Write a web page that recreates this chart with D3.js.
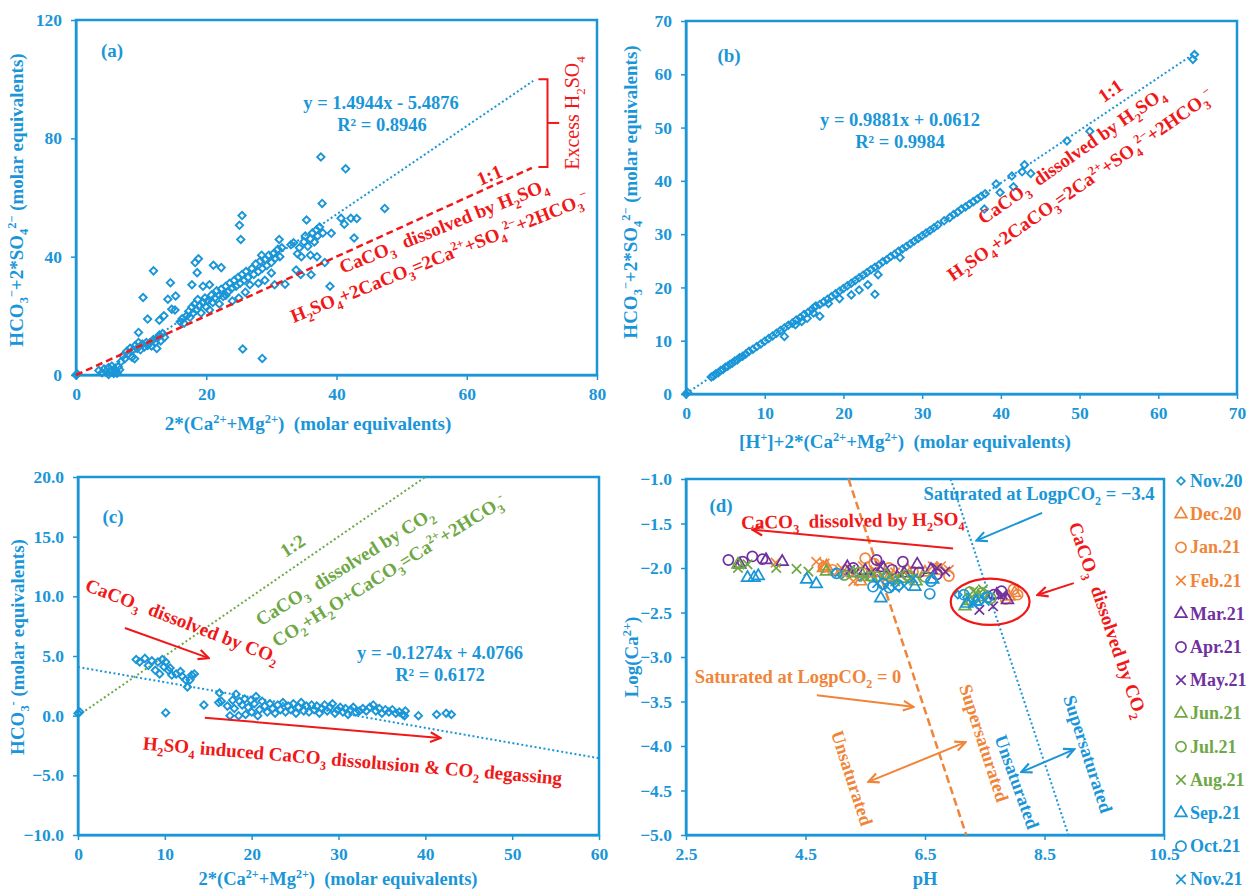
<!DOCTYPE html>
<html lang="en">
<head>
<meta charset="UTF-8">
<title>Carbonate weathering plots</title>
<script src="https://cdn.jsdelivr.net/npm/d3@7/dist/d3.min.js"></script>
<style>
	body { margin: 0; background: #fff; }
	svg { font-family: "Liberation Serif", "Times New Roman", serif; }
</style>
</head>
<body>
<script>
	const blue = '#1a96d8', red = '#f01818', orange = '#f0853a', purple = '#7030a0', green = '#6ea845';

	// (a) 2*(Ca+Mg) vs HCO3 + 2*SO4
	const aPoints = [
		[0,0],[0.2,0.3],[3.5,1.5],[4,0.8],[4.3,2],[4.6,1.2],[5,0.2],[5,2.5],[5.3,1],[5.5,3],[5.8,0.5],[5.9,2],[6.1,1.4],
		[6.3,0.6],[6.5,2.8],[6.7,1.8],[6.9,4.5],[7.2,6.5],[7.5,5.5],[7.8,8],[8,7],[8.3,9],[8.6,6],[8.8,8.5],[9.1,10],
		[9.4,9],[9.6,11],[9.9,8.5],[10.2,10.5],[10.5,9.5],[10.8,11],[11,10],[11.3,10.8],[11.6,9.8],[11.9,12],[12.2,11],
		[12.5,12.5],[12.8,13.5],[13,11.5],[13.3,14],[13.6,12.8],[12.4,9],[9,5.5],
		[9.6,14.4],[10.3,26.2],[11,18.9],[11.9,35.2],[12.8,18.5],[13.5,20],[14.1,25.6],[14.5,31.2],[14.7,22.2],[15.3,26.7],[15.2,22],
		[16,18],[16.3,19],[16.6,17.5],[17,20],[17.3,21.5],[17.5,19.5],[17.8,23],[18,21],[18.2,24],[18.5,22],[18.7,25.5],
		[19,23.5],[19.2,21],[19.5,24.5],[19.8,26],[20,23],[20.2,25],[20.5,22],[20.8,27],[21,24.5],[21.3,26],[21.6,28.5],
		[22,27],[22.3,29],[22.6,26.5],[23,30],[23.3,28],[23.6,31],[24,29.5],[24.3,32],[24.6,30],[24.9,33],[25.2,31],
		[25.5,34],[25.8,32],[26.1,35],[26.4,33],[26.7,30.5],[27,36],[27.3,34],[27.6,37.5],[28,35],[28.3,38.5],[28.6,36],
		[29,39],[29.3,37],[29.6,40.5],[30,38],[30.3,41],[30.6,39.5],[31,42.5],[31.3,40],[31.6,43],[30,34.5],[29,32],
		[28,31],[26,28],[25,26],[24,25],[23,27],[22,24],
		[18.3,38],[18.6,34.6],[18.8,39.3],[17.8,30.5],[19.5,30],[20.5,30.5],[21.1,37.1],[22.3,36.3],[25.1,50.6],
		[25.3,45.8],[25.5,53.9],[25.6,8.8],[28.6,5.6],[28.5,40.5],[30.5,30.5],[32.1,30.7],[31.2,45.8],
		[33,44],[33.4,44.7],[33.8,35.5],[34,41],[34.3,43],[34.6,40],[35,45],[35.2,47],[35.4,52.4],[35.6,43.5],[36,46],
		[36.1,33.9],[36.3,48],[36.6,45],[36.9,49],[37.1,47],[37.4,50],[37.6,73.7],[37.8,58],[37.9,48],[38.2,38],[37,40],
		[36,40.5],[34.5,34],[39.2,47.9],[39,30],[41.4,69.7],[40.7,53],[41.2,51],[42.2,53],[42.7,46.3],[43.1,52.9],[47.4,56.3]
	];
	const aTrend = [[3.67,0],[70.2,99.4]];      // y = 1.4944x - 5.4876
	const aOneToOne = [[0,0],[70,70]];

	// (b) [H+]+2*(Ca+Mg) vs HCO3 + 2*SO4
	const bPoints = [
		[0,0],[0.2,0.3],[3.2,3.2],[3.5,3.4],[3.8,3.8],[4.1,4.0],[4.4,4.4],[4.7,4.6],[5.0,5.0],[5.3,5.2],[5.6,5.6],[5.9,5.8],
		[6.2,6.2],[6.5,6.4],[6.8,6.8],[7.2,7.1],[7.6,7.5],[8.0,8.0],[8.5,8.4],[9.0,8.9],[9.5,9.4],[10,9.9],[10.5,10.4],
		[11,10.9],[11.5,11.4],[12,11.9],[12.5,12.4],[13,12.9],[13.5,13.3],[14,13.9],[14.5,14.3],[15,14.9],[15.5,15.3],
		[16,15.9],[16.3,16.3],[16.5,16.5],[17,16.8],[17.5,17.3],[18,17.8],[18.5,18.3],[19,18.8],[19.5,19.3],[20,19.8],
		[20.5,20.3],[21,20.8],[21.5,21.3],[22,21.8],[22.5,22.3],[23,22.8],[23.5,23.3],[24,23.8],[24.5,24.2],[25,24.8],
		[25.5,25.2],[26,25.8],[26.5,26.2],[27,26.8],[27.5,27.2],[28,27.7],[28.5,28.2],[29,28.7],[29.5,29.2],[30,29.7],
		[30.5,30.2],[31,30.7],[31.5,31.2],[32,31.7],[32.8,32.5],[33.5,33.1],[34,33.7],[34.5,34.1],[35,34.7],[35.5,35.1],
		[36,35.6],[36.5,36.1],[37,36.6],[37.5,37.1],[38,37.6],
		[12.5,10.8],[13.9,13.0],[14.7,13.6],[15.4,14.2],[16.2,15.2],[17.0,14.6],[18.1,17.0],[19.5,17.9],[21,18.6],
		[22,19.5],[23.1,20.5],[24.0,18.7],[24.4,22.4],[27.2,25.6],[37.9,34.7],[39.9,37.8],[39.4,39.4],[41.6,38.9],
		[41.4,40.9],[42.7,41.7],[43.8,41.4],[43,43],[48.4,47.5],[51.3,49.3],[64.4,62.8],[64.6,63.7]
	];
	const bTrend = [[0,0.06],[64.7,64.0]];      // y = 0.9881x + 0.0612

	// (c) 2*(Ca+Mg) vs HCO3
	const cPoints = [
		[0,0.2],[0.2,0.3],[6.7,4.7],[7.1,4.5],[7.7,4.8],[8.1,4.2],[8.5,4.6],[8.9,3.8],[9.2,4.5],[9.4,3.5],[9.7,4.7],
		[9.9,4.1],[10.1,4.5],[10.4,3.8],[10.6,4.0],[10.8,3.4],[11.3,3.5],[11.8,3.7],[12.0,3.3],[12.4,3.0],[12.6,2.4],
		[12.9,3.0],[13.1,3.4],[13.4,3.5],[10.1,0.25],[14.5,0.9],
		[16.2,1.1],[16.3,1.9],[16.5,1.2],[17.2,0.8],[17.5,0],[17.8,1.3],[18,0.6],[18.2,1.8],[18.5,0],[18.6,1.2],[18.9,0.9],
		[19.2,1.4],[19.3,0.1],[19.6,0.7],[19.9,1.3],[20,0.3],[20.3,1.0],[20.5,1.6],[20.7,0],[20.9,0.5],[21.2,1.2],
		[21.5,0.8],[21.8,0.3],[22.1,1.0],[22.4,0.6],[22.7,0.2],[23,0.9],[23.3,0.5],[23.6,1.1],[23.9,0.3],[24.2,0.8],
		[24.5,0.5],[24.8,1.0],[25.1,0.2],[25.4,0.7],[25.7,1.1],[26,0.4],[26.3,0.8],[26.6,0.3],[26.9,0.9],[27.2,0.5],
		[27.5,0.8],[27.8,0.2],[28.1,0.6],[28.4,0.9],[28.7,0.4],[29,0.7],[29.3,1.0],[29.6,0.2],[29.9,0.5],[30.2,0.7],
		[30.5,0.3],[30.8,0.6],[31.1,0.1],[31.4,0.5],[31.7,0.7],[32,0.3],[32.4,0.4],[32.8,0.6],[33.2,0.4],[33.6,0.7],
		[34,0.9],[34.3,0.4],[34.7,0.6],[35,0.2],[35.4,0.5],[35.8,0.3],[36.2,0.5],[36.6,0.2],[37,0.3],[37.4,0.1],
		[37.7,0.4],[37.6,0],[39.2,0],[41.3,0.1],[42.4,0.2],[43,0.1]
	];
	const cTrend = [[0,4.0766],[60,-3.5674]];   // y = -0.1274x + 4.0766
	const cOneToTwo = [[0,0],[40,20]];

	// (d) pH vs Log(Ca2+), by month
	const nov20 = [[5.0,-2.05],[5.1,-2.08],[5.25,-2.06],[5.4,-2.1],[5.55,-2.07],[5.7,-2.12],[5.85,-2.09],[6.0,-2.14],[7.05,-2.3],[7.2,-2.33],[7.35,-2.35],[7.5,-2.31]];
	const dec20 = [[4.8,-2.0],[4.85,-1.98],[5.2,-2.05],[5.42,-2.15],[5.6,-2.06],[5.9,-2.1],[6.2,-2.02],[6.5,-2.05],[6.7,-2.03],[7.9,-2.32],[8.0,-2.28]];
	const jan21 = [[4.8,-1.99],[4.95,-2.02],[5.5,-1.89],[5.65,-1.95],[5.9,-2.0],[6.3,-2.04],[6.9,-2.09],[7.98,-2.24],[8.05,-2.3],[7.85,-2.35]];
	const feb21 = [[4.0,-1.94],[4.68,-1.93],[4.82,-1.95],[5.1,-2.0],[5.46,-1.98],[5.3,-2.15],[6.0,-2.05],[6.63,-1.98],[6.77,-1.98],[6.9,-2.02]];
	const mar21 = [[3.4,-1.96],[3.84,-1.91],[4.11,-1.93],[5.2,-1.99],[5.5,-2.03],[5.8,-2.0],[6.15,-2.06],[6.37,-1.96],[6.6,-2.02],[7.7,-2.3],[7.88,-2.36]];
	const apr21 = [[3.21,-1.91],[3.61,-1.87],[3.78,-1.9],[3.45,-1.93],[5.3,-2.0],[5.69,-1.91],[5.95,-2.02],[6.13,-1.93],[6.4,-2.05],[6.7,-2.07],[7.78,-2.26],[7.65,-2.3]];
	const may21 = [[5.25,-2.02],[5.6,-2.05],[5.75,-1.98],[6.1,-2.08],[6.84,-2.04],[6.7,-2.0],[7.41,-2.47],[7.64,-2.43],[7.8,-2.3]];
	const jun21 = [[3.37,-1.96],[4.85,-2.04],[5.3,-2.06],[5.6,-2.1],[5.85,-2.08],[6.1,-2.12],[6.35,-2.15],[7.17,-2.43],[7.25,-2.37],[7.4,-2.33]];
	const jul21 = [[5.15,-2.08],[5.4,-2.05],[5.7,-2.1],[5.95,-2.12],[6.2,-2.08],[6.5,-2.1],[7.25,-2.27],[7.45,-2.28],[7.6,-2.34]];
	const aug21 = [[3.37,-2.0],[3.53,-1.96],[4.01,-2.0],[4.35,-2.01],[4.55,-2.04],[5.5,-2.1],[6.0,-2.15],[6.25,-2.12],[7.31,-2.26],[7.47,-2.24]];
	const sep21 = [[3.53,-2.11],[3.64,-2.11],[3.71,-2.09],[4.52,-2.13],[4.68,-2.18],[5.76,-2.34],[6.33,-2.21],[6.63,-2.13],[7.2,-2.4],[7.35,-2.38]];
	const oct21 = [[5.02,-2.06],[5.63,-2.21],[5.8,-2.18],[5.9,-2.22],[6.05,-2.19],[6.58,-2.29],[6.6,-2.15],[7.15,-2.3],[7.4,-2.36],[7.55,-2.33]];
	const nov21 = [[5.7,-2.17],[5.85,-2.2],[6.0,-2.22],[6.15,-2.2],[6.3,-2.12],[7.3,-2.4],[7.5,-2.37]];
	const monthNames = ['Nov.20','Dec.20','Jan.21','Feb.21','Mar.21','Apr.21','May.21','Jun.21','Jul.21','Aug.21','Sep.21','Oct.21','Nov.21'];
	const monthData = [nov20, dec20, jan21, feb21, mar21, apr21, may21, jun21, jul21, aug21, sep21, oct21, nov21];
	const monthColors = [blue, orange, orange, orange, purple, purple, purple, green, green, green, blue, blue, blue];
	const monthShapes = ['diamond','triangle','circle','cross','triangle','circle','cross','triangle','circle','cross','triangle','circle','cross'];
	const dSatZero = [[5.22,-1],[7.19,-5]];
	const dSatAir = [[6.93,-1],[8.9,-5]];

	// ticks
	const aTicksX = [0,20,40,60,80], aTicksY = [0,40,80,120];
	const bTicks = [0,10,20,30,40,50,60,70];
	const cTicksX = [0,10,20,30,40,50,60], cTicksY = [-10,-5,0,5,10,15,20];
	const dTicksX = [2.5,4.5,6.5,8.5,10.5], dTicksY = [-5,-4.5,-4,-3.5,-3,-2.5,-2,-1.5,-1];

	const svg = d3.select('body').append('svg').attr('width', 1250).attr('height', 892);

	const defs = svg.append('defs');
	[['ar-red', red], ['ar-blue', blue], ['ar-orange', orange]].forEach(([id, col]) => {
		defs.append('marker').attr('id', id)
			.attr('viewBox', '0 0 12 12').attr('refX', 10).attr('refY', 6)
			.attr('markerWidth', 13).attr('markerHeight', 13)
			.attr('markerUnits', 'userSpaceOnUse').attr('orient', 'auto-start-reverse')
			.append('path').attr('d', 'M1,1.5L10.5,6L1,10.5')
			.attr('fill', 'none').attr('stroke', col).attr('stroke-width', 2);
	});

	// text with _{sub} and ^{sup}
	function rich(sel, str, fs) {
		const parts = str.split(/(_\{[^}]*\}|\^\{[^}]*\})/).filter(s => s.length);
		let cur = 0;
		parts.forEach(p => {
			let off = 0, size = fs, txt = p;
			if (p.startsWith('_{')) { off = fs * 0.28; size = fs * 0.65; txt = p.slice(2, -1); }
			else if (p.startsWith('^{')) { off = -fs * 0.38; size = fs * 0.65; txt = p.slice(2, -1); }
			sel.append('tspan').attr('dy', off - cur).attr('font-size', size).text(txt);
			cur = off;
		});
	}

	function note(x, y, ang, str, color, fs, weight) {
		const t = svg.append('text')
			.attr('transform', `translate(${x},${y}) rotate(${ang})`)
			.attr('text-anchor', 'middle')
			.attr('fill', color)
			.attr('font-weight', weight || 'bold')
			.attr('font-size', fs)
			.style('white-space', 'pre');
		rich(t, str, fs);
		return t;
	}

	function panel(cfg) {
		const x = d3.scaleLinear().domain(cfg.xd).range(cfg.xr);
		const y = d3.scaleLinear().domain(cfg.yd).range(cfg.yr);
		const g = svg.append('g');
		const gx = g.append('g').attr('transform', `translate(0,${cfg.yr[0]})`)
			.call(d3.axisBottom(x).tickValues(cfg.xt).tickSize(5).tickSizeOuter(0).tickPadding(8).tickFormat(cfg.xf || d3.format('d')));
		const gy = g.append('g').attr('transform', `translate(${cfg.xr[0]},0)`)
			.call(d3.axisLeft(y).tickValues(cfg.yt).tickSize(5).tickSizeOuter(0).tickPadding(9).tickFormat(cfg.yf || d3.format('d')));
		[gx, gy].forEach(a => {
			a.select('.domain').attr('stroke', blue).attr('stroke-width', 2);
			a.selectAll('.tick line').attr('stroke', blue).attr('stroke-width', 1.5);
			a.selectAll('.tick text').attr('fill', blue).attr('font-size', 17.5).attr('font-weight', 'bold')
				.attr('font-family', '"Liberation Serif", serif');
		});
		g.append('rect')
			.attr('x', cfg.xr[0]).attr('y', cfg.yr[1])
			.attr('width', cfg.xr[1] - cfg.xr[0]).attr('height', cfg.yr[0] - cfg.yr[1])
			.attr('fill', 'none').attr('stroke', blue).attr('stroke-width', 2.5);
		return { x, y, g };
	}

	function line(p, pts, color, dash, w) {
		p.g.append('path')
			.attr('d', d3.line().x(d => p.x(d[0])).y(d => p.y(d[1]))(pts))
			.attr('fill', 'none').attr('stroke', color).attr('stroke-width', w || 2)
			.attr('stroke-dasharray', dash);
	}

	function arrow(p, pts, color, id, both) {
		const path = p.g.append('path')
			.attr('d', d3.line().x(d => p.x(d[0])).y(d => p.y(d[1]))(pts))
			.attr('fill', 'none').attr('stroke', color).attr('stroke-width', 2)
			.attr('marker-end', `url(#${id})`);
		if (both) path.attr('marker-start', `url(#${id})`);
	}

	const diamond = d3.symbol(d3.symbolSquare, 27);
	function diamonds(p, pts) {
		p.g.append('g').selectAll('path').data(pts).join('path')
			.attr('d', diamond)
			.attr('transform', d => `translate(${p.x(d[0])},${p.y(d[1])}) rotate(45)`)
			.attr('fill', 'none').attr('stroke', blue).attr('stroke-width', 1.9);
	}

	const shapeGen = {
		diamond: d3.symbol(d3.symbolSquare, 30),
		triangle: d3.symbol(d3.symbolTriangle, 60),
		circle: d3.symbol(d3.symbolCircle, 80),
		cross: d3.symbol(d3.symbolTimes, 60)
	};
	function marker(sel, shape, color) {
		sel.append('path').attr('d', shapeGen[shape]())
			.attr('transform', shape === 'diamond' ? 'rotate(45)' : null)
			.attr('fill', 'none').attr('stroke', color).attr('stroke-width', 1.7);
	}

	// ---------- (a) ----------
	const pa = panel({ xd: [0, 80], xr: [76, 597], yd: [0, 120], yr: [375, 20], xt: aTicksX, yt: aTicksY });
	diamonds(pa, aPoints);
	line(pa, aTrend, blue, '2,2.5', 2);
	line(pa, aOneToOne, red, '7,4', 2.5);
	pa.g.append('path')
		.attr('d', d3.line().x(d => pa.x(d[0])).y(d => pa.y(d[1]))([[71, 100], [72.4, 100], [72.4, 70.3], [71, 70.3]]))
		.attr('fill', 'none').attr('stroke', red).attr('stroke-width', 2);
	line(pa, [[72.4, 85.2], [74.2, 85.2]], red, null, 2);
	note(112, 57, 0, '(a)', blue, 19);
	note(381, 109, 0, 'y = 1.4944x - 5.4876', blue, 18.5);
	note(382, 131, 0, 'R² = 0.8946', blue, 18.5);
	note(579, 113, -90, 'Excess H_{2}SO_{4}', red, 20, 'normal');
	note(492, 181, -23, '1:1', red, 19);
	note(446, 232, -22, 'CaCO_{3}  dissolved by H_{2}SO_{4}', red, 19);
	note(442, 263, -22, 'H_{2}SO_{4}+2CaCO_{3}=2Ca^{2+}+SO_{4}^{2−}+2HCO_{3}^{−}', red, 19);
	note(23, 200, -90, 'HCO_{3}^{−}+2*SO_{4}^{2−} (molar equivalents)', blue, 19);
	note(308, 430, 0, '2*(Ca^{2+}+Mg^{2+})  (molar equivalents)', blue, 19);

	// ---------- (b) ----------
	const pb = panel({ xd: [0, 70], xr: [686, 1237], yd: [0, 70], yr: [394, 21], xt: bTicks, yt: bTicks });
	line(pb, bTrend, blue, '2,2.5', 2);
	diamonds(pb, bPoints);
	note(729, 62, 0, '(b)', blue, 19);
	note(900, 126, 0, 'y = 0.9881x + 0.0612', blue, 18.5);
	note(900, 148, 0, 'R² = 0.9984', blue, 18.5);
	note(1114, 96, -35, '1:1', red, 19);
	note(1075, 161, -35, 'CaCO_{3}  dissolved by H_{2}SO_{4}', red, 19);
	note(1084, 190, -35, 'H_{2}SO_{4}+2CaCO_{3}=2Ca^{2+}+SO_{4}^{2−}+2HCO_{3}^{−}', red, 19);
	note(637, 192, -90, 'HCO_{3}^{−}+2*SO_{4}^{2−} (molar equivalents)', blue, 19);
	note(905, 448, 0, '[H^{+}]+2*(Ca^{2+}+Mg^{2+})  (molar equivalents)', blue, 19);

	// ---------- (c) ----------
	const pc = panel({ xd: [0, 60], xr: [78, 599], yd: [-10, 20], yr: [835, 477], xt: cTicksX, yt: cTicksY, yf: d3.format('.1f') });
	line(pc, cOneToTwo, green, '2,2.5', 2);
	line(pc, cTrend, blue, '2,2.5', 2);
	diamonds(pc, cPoints);
	arrow(pc, [[5.4, 7.35], [15.0, 4.84]], red, 'ar-red');
	arrow(pc, [[14.6, -0.17], [41.7, -1.87]], red, 'ar-red');
	note(113, 523, 0, '(c)', blue, 19);
	note(296, 551, -33, '1:2', green, 19);
	note(348, 572, -32, 'CaCO_{3}  dissolved by CO_{2}', green, 19);
	note(392, 576, -32, 'CO_{2}+H_{2}O+CaCO_{3}=Ca^{2+}+2HCO_{3}^{-}', green, 19);
	note(180, 627, 21, 'CaCO_{3}  dissolved by CO_{2}', red, 19);
	note(440, 659, 0, 'y = -0.1274x + 4.0766', blue, 18.5);
	note(440, 681, 0, 'R² = 0.6172', blue, 18.5);
	note(352, 767, 4.8, 'H_{2}SO_{4} induced CaCO_{3} dissolusion & CO_{2} degassing', red, 19);
	note(24, 647, -90, 'HCO_{3}^{-} (molar equivalents)', blue, 19);
	note(338, 885, 0, '2*(Ca^{2+}+Mg^{2+})  (molar equivalents)', blue, 18.5);

	// ---------- (d) ----------
	const pd = panel({ xd: [2.5, 10.5], xr: [686, 1164], yd: [-5, -1], yr: [835, 479], xt: dTicksX, yt: dTicksY,
		xf: d3.format('.1f'), yf: d3.format('.1f') });
	line(pd, dSatZero, orange, '8,4', 2.5);
	line(pd, dSatAir, blue, '2,2.5', 2);
	monthData.forEach((pts, i) => {
		pd.g.append('g').selectAll('g').data(pts).join('g')
			.attr('transform', d => `translate(${pd.x(d[0])},${pd.y(d[1])})`)
			.each(function () { marker(d3.select(this), monthShapes[i], monthColors[i]); });
	});
	pd.g.append('ellipse')
		.attr('cx', pd.x(7.59)).attr('cy', pd.y(-2.38))
		.attr('rx', pd.x(7.59 + 0.66) - pd.x(7.59)).attr('ry', pd.y(-2.38 - 0.26) - pd.y(-2.38))
		.attr('fill', 'none').attr('stroke', red).attr('stroke-width', 2.2);
	arrow(pd, [[6.97, -1.78], [3.62, -1.57]], red, 'ar-red');
	arrow(pd, [[8.46, -1.38], [7.37, -1.69]], blue, 'ar-blue');
	arrow(pd, [[8.99, -2.17], [8.39, -2.30]], red, 'ar-red');
	arrow(pd, [[4.69, -3.43], [6.30, -3.56]], orange, 'ar-orange');
	arrow(pd, [[5.56, -4.40], [7.17, -3.96]], orange, 'ar-orange', true);
	arrow(pd, [[8.12, -4.29], [8.99, -4.04]], blue, 'ar-blue', true);
	note(721, 512, 0, '(d)', blue, 19);
	note(853, 527, -1, 'CaCO_{3}  dissolved by H_{2}SO_{4}', red, 19);
	note(1039, 500, 0, 'Saturated at LogpCO_{2} = −3.4', blue, 18.5);
	note(1102, 622, 71, 'CaCO_{3}  dissolved by CO_{2}', red, 19);
	note(798, 683, 0, 'Saturated at LogpCO_{2} = 0', orange, 18.5);
	note(978, 745, 72, 'Supersaturated', orange, 18.5);
	note(846, 780, 72, 'Unsaturated', orange, 18.5);
	note(1011, 784, 70, 'Unsaturated', blue, 18.5);
	note(1082, 756, 72, 'Supersaturated', blue, 18.5);
	note(638, 657, -90, 'Log(Ca^{2+})', blue, 19);
	note(925, 885, 0, 'pH', blue, 18.5);

	// legend
	const legend = svg.append('g').attr('transform', 'translate(1181,481)');
	monthNames.forEach((name, i) => {
		const row = legend.append('g').attr('transform', `translate(0,${i * 33.2})`);
		marker(row, monthShapes[i], monthColors[i]);
		row.append('text').attr('x', 9).attr('y', 6)
			.attr('fill', monthColors[i]).attr('font-weight', 'bold').attr('font-size', 18)
			.text(name);
	});
</script>
</body>
</html>
